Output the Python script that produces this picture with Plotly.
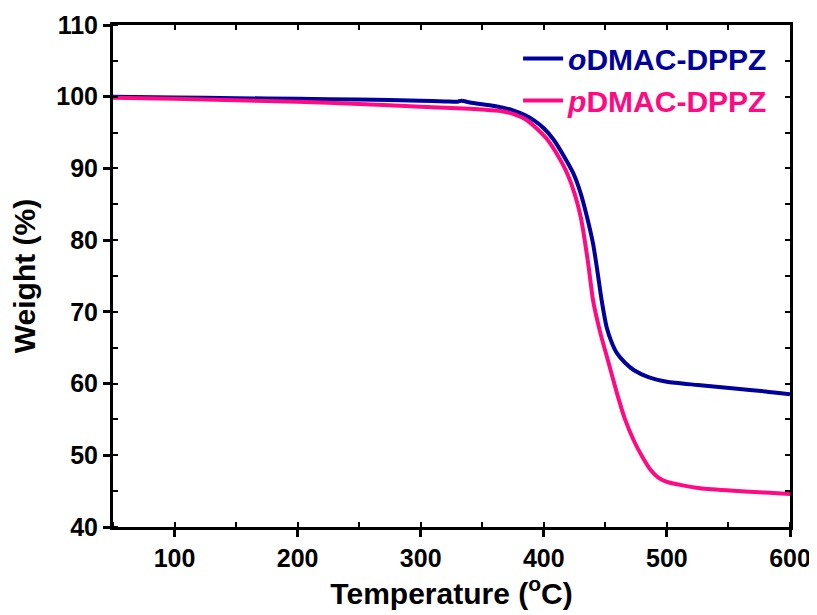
import plotly.graph_objects as go

# oDMAC-DPPZ
o_temp = [50, 100, 150, 200, 250, 300, 320, 330, 333, 340, 360, 375, 385, 392, 400, 408, 416, 424, 430, 435,
          440, 443, 447, 451, 455, 459.5, 466, 473, 485, 500, 525, 555, 580, 600]
o_weight = [100.0, 99.9, 99.8, 99.7, 99.6, 99.45, 99.35, 99.3, 99.45, 99.2, 98.7, 98.1, 97.4, 96.7, 95.6, 94.0,
            91.8, 89.3, 86.5, 83.3, 79.5, 76.3, 71.6, 67.9, 65.8, 64.2, 62.9, 61.9, 60.9, 60.25, 59.8, 59.3, 58.9, 58.5]

# pDMAC-DPPZ
p_temp = [50, 100, 150, 200, 250, 300, 330, 350, 365, 375, 386, 394, 403, 411, 419, 425, 430, 436, 440, 446,
          452, 459.5, 466, 473, 480, 487, 493, 500, 513, 527, 554, 580, 600]
p_weight = [99.85, 99.7, 99.5, 99.3, 99.0, 98.6, 98.4, 98.2, 98.0, 97.6, 96.75, 95.6, 94.0, 91.9, 89.3, 86.5,
            83.2, 76.8, 71.6, 67.0, 63.3, 58.6, 55.0, 52.1, 49.8, 47.9, 46.9, 46.3, 45.8, 45.4, 45.05, 44.8, 44.6]

x_ticks = [100, 200, 300, 400, 500, 600]
y_ticks = [40, 50, 60, 70, 80, 90, 100, 110]

BLUE = "#00009C"
PINK = "#FF0A82"
FONT = "Liberation Sans"

fig = go.Figure()
fig.add_trace(go.Scatter(x=o_temp, y=o_weight, mode="lines",
                         line=dict(color=BLUE, width=4, shape="spline", smoothing=0.6),
                         name=f"<span style='color:{BLUE}'><i>o</i>DMAC-DPPZ</span>"))
fig.add_trace(go.Scatter(x=p_temp, y=p_weight, mode="lines",
                         line=dict(color=PINK, width=4, shape="spline", smoothing=0.6),
                         name=f"<span style='color:{PINK}'><i>p</i>DMAC-DPPZ</span>"))
# invisible trace to activate mirror axes (top/right) with inside ticks
fig.add_trace(go.Scatter(x=o_temp, y=o_weight, xaxis="x2", yaxis="y2", mode="lines",
                         line=dict(width=0, color="rgba(0,0,0,0)"), showlegend=False, hoverinfo="skip"))

axis_common = dict(showgrid=False, zeroline=False, showline=True, linecolor="black", linewidth=3,
                   tickcolor="black", tickwidth=2.5, automargin=False,
                   tickfont=dict(family=FONT, size=25, color="black", weight="bold"))

fig.update_layout(
    width=809, height=607,
    margin=dict(l=105, r=27, t=17, b=88),
    paper_bgcolor="white", plot_bgcolor="white",
    font=dict(family=FONT, color="black"),
    xaxis=dict(range=[50, 600], tickvals=x_ticks, ticks="outside", ticklen=7,
               minor=dict(dtick=50, tick0=50, ticks="inside", ticklen=5, tickcolor="black", tickwidth=2),
               title=dict(text="Temperature (<sup>o</sup>C)", font=dict(family=FONT, size=30, weight="bold"),
                          standoff=10),
               **axis_common),
    yaxis=dict(range=[40, 110], tickvals=y_ticks, ticks="outside", ticklen=7,
               minor=dict(dtick=5, tick0=40, ticks="inside", ticklen=5, tickcolor="black", tickwidth=2),
               title=dict(text="Weight (%)", font=dict(family=FONT, size=30, weight="bold"), standoff=18),
               **axis_common),
    xaxis2=dict(range=[50, 600], overlaying="x", side="top", anchor="y", showticklabels=False,
                dtick=50, tick0=50, ticks="inside", ticklen=5, showgrid=False, zeroline=False,
                showline=True, linecolor="black", linewidth=3, tickcolor="black", tickwidth=2, automargin=False),
    yaxis2=dict(range=[40, 110], overlaying="y", side="right", anchor="x", showticklabels=False,
                dtick=5, tick0=40, ticks="inside", ticklen=5, showgrid=False, zeroline=False,
                showline=True, linecolor="black", linewidth=3, tickcolor="black", tickwidth=2, automargin=False),
    legend=dict(x=0.975, y=0.985, xanchor="right", yanchor="top", bgcolor="rgba(0,0,0,0)",
                font=dict(family=FONT, size=30, weight="bold"), tracegroupgap=0, itemwidth=40),
    showlegend=True,
)

fig.write_html("out.html")
